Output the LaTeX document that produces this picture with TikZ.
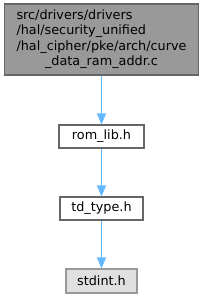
\documentclass[tikz,border=0pt]{standalone}
\usepackage{fontspec}
\setmainfont{DejaVu Sans}
\usetikzlibrary{arrows.meta}
\definecolor{edgeblue}{HTML}{63B8FF}
\definecolor{boxline}{HTML}{666666}
\definecolor{topfill}{HTML}{999999}
\definecolor{sysfill}{HTML}{E0E0E0}
\definecolor{sysline}{HTML}{999999}
\tikzset{
  filebox/.style={draw=boxline, line width=1.1pt, fill=white, inner sep=0pt, font=\fontsize{12.8}{15.5}\selectfont},
  topbox/.style={filebox, fill=topfill},
  sysbox/.style={filebox, draw=sysline, fill=sysfill},
  dep/.style={draw=edgeblue, line width=1.1pt, -{Triangle[width=9pt,length=11pt]}}
}
\begin{document}
\begin{tikzpicture}[x=1pt,y=-1pt]
\useasboundingbox (0,0) rectangle (203,300);
\node[topbox, minimum width=194pt, minimum height=71pt] (src) at (101.5,39.5)
  {\begin{tabular}{@{}l@{}}src/drivers/drivers\\/hal/security\_unified\\/hal\_cipher/pke/arch/curve\\\multicolumn{1}{@{}c@{}}{\_data\_ram\_addr.c}\end{tabular}};
\node[filebox, minimum width=85pt, minimum height=23pt] (rom) at (101.5,136.5) {rom\_lib.h};
\node[filebox, minimum width=83pt, minimum height=23pt] (td) at (101.5,208.5) {td\_type.h};
\node[sysbox, minimum width=71pt, minimum height=24pt] (std) at (101.5,281) {stdint.h};
\draw[dep] (src) -- (rom);
\draw[dep] (rom) -- (td);
\draw[dep] (td) -- (std);
\end{tikzpicture}
\end{document}
